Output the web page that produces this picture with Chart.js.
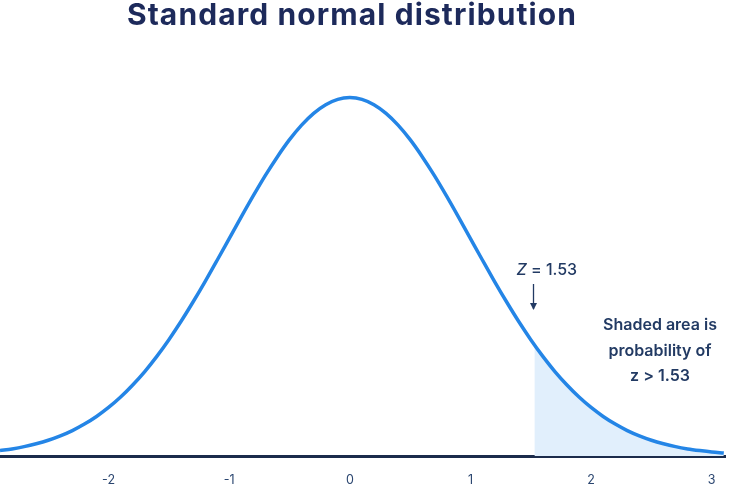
<!DOCTYPE html>
<html>
<head>
<meta charset="utf-8">
<script src="https://cdn.jsdelivr.net/npm/chart.js@4"></script>
<style>
html,body{margin:0;padding:0;background:#fff;}
#wrap{width:741px;height:492px;position:relative;}
</style>
</head>
<body>
<div id="wrap"><canvas id="c"></canvas></div>
<script>
// Curve (z, density)
const zValues = [-2.9,-2.8,-2.7,-2.6,-2.5,-2.4,-2.3,-2.2,-2.1,-2.0,-1.9,-1.8,-1.7,-1.6,-1.5,-1.4,-1.3,-1.2,-1.1,-1.0,-0.9,-0.8,-0.7,-0.6,-0.5,-0.4,-0.3,-0.2,-0.1,0,0.1,0.2,0.3,0.4,0.5,0.6,0.7,0.8,0.9,1.0,1.1,1.2,1.3,1.4,1.5,1.6,1.7,1.8,1.9,2.0,2.1,2.2,2.3,2.4,2.5,2.6,2.7,2.8,2.9,3.0,3.1];
const density = [0.0060,0.0079,0.0104,0.0136,0.0175,0.0224,0.0283,0.0355,0.0440,0.0540,0.0656,0.0790,0.0940,0.1109,0.1295,0.1497,0.1714,0.1942,0.2179,0.2420,0.2661,0.2897,0.3123,0.3332,0.3521,0.3683,0.3814,0.3910,0.3970,0.3989,0.3970,0.3910,0.3814,0.3683,0.3521,0.3332,0.3123,0.2897,0.2661,0.2420,0.2179,0.1942,0.1714,0.1497,0.1295,0.1109,0.0940,0.0790,0.0656,0.0540,0.0440,0.0355,0.0283,0.0224,0.0175,0.0136,0.0104,0.0079,0.0060,0.0044,0.0033];
// Shaded tail z > 1.53
const tailZ = [1.53,1.6,1.7,1.8,1.9,2.0,2.1,2.2,2.3,2.4,2.5,2.6,2.7,2.8,2.9,3.0,3.1];
const tailDensity = [0.1238,0.1109,0.0940,0.0790,0.0656,0.0540,0.0440,0.0355,0.0283,0.0224,0.0175,0.0136,0.0104,0.0079,0.0060,0.0044,0.0033];
const tickValues = [-2,-1,0,1,2,3];
const zCritical = 1.53;
const titleText = 'Standard normal distribution';
const zLabel = ['Z', ' = 1.53'];
const noteLines = ['Shaded area is', 'probability of', 'z > 1.53'];

const navy = '#1d2a5b';
const textNavy = '#223a63';
const blue = '#2485e6';

const annot = {
  id: 'annot',
  afterDraw(chart) {
    const ctx = chart.ctx;
    const xs = chart.scales.x;
    const px = xs.getPixelForValue(zCritical);
    ctx.save();
    // title
    ctx.fillStyle = navy;
    ctx.textAlign = 'center';
    ctx.textBaseline = 'alphabetic';
    ctx.font = '700 30px Inter';
    if ('letterSpacing' in ctx) ctx.letterSpacing = '1.1px';
    ctx.fillText(titleText, 352, 25);
    if ('letterSpacing' in ctx) ctx.letterSpacing = '0px';
    ctx.fillStyle = textNavy;
    ctx.textBaseline = 'middle';
    // Z = 1.53
    ctx.font = 'italic 500 16px Inter';
    const w1 = ctx.measureText(zLabel[0]).width;
    const sx = px - 18;
    ctx.textAlign = 'left';
    ctx.fillText(zLabel[0], sx, 270);
    ctx.font = '500 16px Inter';
    ctx.fillText(zLabel[1], sx + w1, 270);
    // arrow
    const ax = Math.round(px) - 0.5;
    ctx.strokeStyle = textNavy;
    ctx.lineWidth = 1.3;
    ctx.beginPath();
    ctx.moveTo(ax, 284);
    ctx.lineTo(ax, 309);
    ctx.stroke();
    ctx.beginPath();
    ctx.moveTo(ax - 3.5, 303);
    ctx.lineTo(ax, 310);
    ctx.lineTo(ax + 3.5, 303);
    ctx.closePath();
    ctx.fill();
    // note
    ctx.textAlign = 'center';
    ctx.font = '600 16px Inter';
    noteLines.forEach((t, i) => ctx.fillText(t, 660, 325 + i * 25.7));
    ctx.restore();
  }
};

new Chart(document.getElementById('c'), {
  type: 'line',
  data: {
    datasets: [
      {
        label: 'pdf',
        order: 0,
        data: zValues.map((z, i) => ({x: z, y: density[i]})),
        borderColor: blue,
        borderWidth: 3.5,
        fill: false,
        pointRadius: 0,
        cubicInterpolationMode: 'monotone'
      },
      {
        label: 'tail',
        order: 1,
        data: tailZ.map((z, i) => ({x: z, y: tailDensity[i]})),
        borderColor: 'rgba(0,0,0,0)',
        borderWidth: 0,
        backgroundColor: '#e1effc',
        fill: 'origin',
        pointRadius: 0,
        cubicInterpolationMode: 'monotone'
      }
    ]
  },
  options: {
    responsive: true,
    maintainAspectRatio: false,
    animation: false,
    layout: { padding: { left: 0, right: 16, top: 58, bottom: 0 } },
    plugins: {
      legend: { display: false },
      tooltip: { enabled: false },
      title: { display: false }
    },
    scales: {
      x: {
        type: 'linear',
        min: -2.9,
        max: 3.11,
        z: 1,
        afterBuildTicks: (s) => { s.ticks = tickValues.map(v => ({value: v})); },
        afterFit: (s) => { s.height = 36; },
        grid: { display: false, drawTicks: false },
        border: { display: true, color: '#1b2b4b', width: 3 },
        ticks: { color: '#2b4670', font: { family: 'Inter', size: 12.5 }, padding: 17, maxRotation: 0 }
      },
      y: {
        display: false,
        min: 0,
        max: 0.443
      }
    }
  },
  plugins: [annot]
});
</script>
</body>
</html>
